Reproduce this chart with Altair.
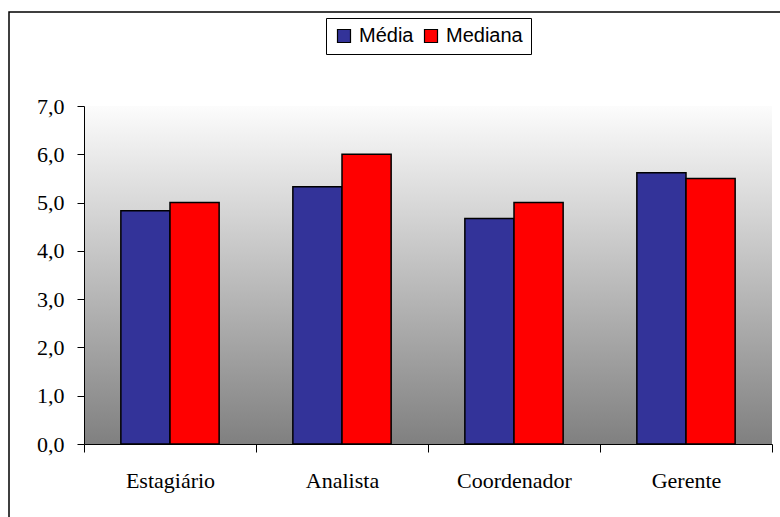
import altair as alt
import pandas as pd

# Salary-satisfaction scores by job level: mean vs median
categories = ["Estagiário", "Analista", "Coordenador", "Gerente"]
media = [4.83, 5.33, 4.67, 5.62]
mediana = [5.0, 6.0, 5.0, 5.5]
series = ["Média", "Mediana"]
colors = ["#333399", "#ff0000"]
y_ticks = [0, 1, 2, 3, 4, 5, 6, 7]

W, H = 688, 338

rows = []
for cargo, a, b in zip(categories, media, mediana):
    rows.append({"cargo": cargo, "serie": series[0], "valor": a})
    rows.append({"cargo": cargo, "serie": series[1], "valor": b})
df = pd.DataFrame(rows)

single = alt.Data(values=[{}])

# outer frame around the whole chart
frame = alt.Chart(single).mark_rect(
    fillOpacity=0, stroke="black", strokeWidth=1.5
).encode(
    x=alt.value(-75), x2=alt.value(W + 40),
    y=alt.value(-94), y2=alt.value(H + 120),
)

# plot-area background: white at the top fading to grey at the bottom
shade = alt.Gradient(
    gradient="linear", x1=0, y1=0, x2=0, y2=1,
    stops=[alt.GradientStop(color="#fcfcfc", offset=0),
           alt.GradientStop(color="#808080", offset=1)],
)
backdrop = alt.Chart(single).mark_rect(fill=shade).encode(
    x=alt.value(0), x2=alt.value(W), y=alt.value(0), y2=alt.value(H)
)

bars = alt.Chart(df).mark_bar(stroke="black", strokeWidth=1.5).encode(
    x=alt.X(
        "cargo:N", sort=categories,
        scale=alt.Scale(paddingInner=0, paddingOuter=0),
        axis=alt.Axis(
            title=None, labelAngle=0, tickBand="extent", tickSize=8,
            labelPadding=18, domainColor="black", tickColor="black",
            labelFont="Liberation Serif", labelFontSize=22, labelColor="black",
            grid=False, zindex=1,
        ),
    ),
    xOffset=alt.XOffset(
        "serie:N", sort=series,
        scale=alt.Scale(paddingOuter=0.75, paddingInner=0),
    ),
    y=alt.Y(
        "valor:Q",
        scale=alt.Scale(domain=[0, 7], nice=False),
        axis=alt.Axis(
            title=None, values=y_ticks,
            labelExpr="replace(format(datum.value, '.1f'), '.', ',')",
            tickSize=7, labelPadding=13, domainColor="black", tickColor="black",
            labelFont="Liberation Serif", labelFontSize=22, labelColor="black",
            grid=False, zindex=1,
        ),
    ),
    color=alt.Color(
        "serie:N",
        scale=alt.Scale(domain=series, range=colors),
        legend=alt.Legend(
            title=None, orient="none", legendX=242, legendY=-88,
            direction="horizontal", fillColor="white", strokeColor="black",
            padding=8, symbolType="square", symbolSize=169,
            symbolStrokeColor="black", symbolStrokeWidth=1.2,
            labelFont="Liberation Sans", labelFontSize=20, labelColor="black",
            columnPadding=7, labelOffset=5,
        ),
    ),
)

chart = alt.layer(frame, backdrop, bars).properties(
    width=W, height=H,
    autosize="none",
    padding={"left": 84, "top": 106, "right": 8, "bottom": 73},
    background="white",
).configure_view(strokeOpacity=0)

chart.save("out.html", embed_options={"renderer": "svg", "actions": False})
